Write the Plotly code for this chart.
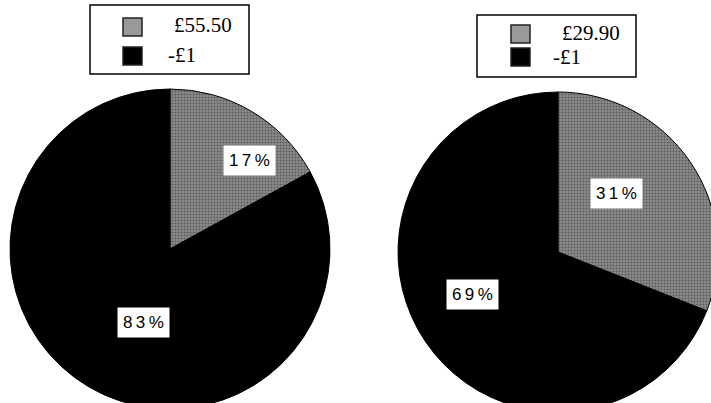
import math
import plotly.graph_objects as go

# Share of each outcome, per ticket price
left_labels = ["£55.50", "-£1"]
left_values = [17, 83]
right_labels = ["£29.90", "-£1"]
right_values = [31, 69]

W, H = 720, 412
R = 160
GRAY = "#8c8c8c"
BLACK = "#000000"
LABEL_FONT = dict(family="Liberation Sans, Arial, sans-serif", size=17, color="black")
LEGEND_FONT = dict(family="Liberation Serif, Times New Roman, serif", size=21, color="black")


def px(x):
    return x / W


def py(y):
    return 1 - y / H


def pie(labels, values, cx, cy):
    return go.Pie(
        labels=labels,
        values=values,
        sort=False,
        direction="clockwise",
        rotation=0,
        textinfo="none",
        hoverinfo="label+percent",
        marker=dict(
            colors=[GRAY, BLACK],
            line=dict(color="black", width=1),
            pattern=dict(shape=[".", ""], fgcolor="#5a5a5a", bgcolor=GRAY,
                         size=3, solidity=0.35, fillmode="replace"),
        ),
        domain=dict(x=[px(cx - R), px(cx + R)], y=[py(cy + R), py(cy - R)]),
        showlegend=False,
    )


def slice_labels(values, cx, cy):
    anns = []
    total = sum(values)
    cum = 0
    for v in values:
        mid = (cum + v / 2) / total * 2 * math.pi
        cum += v
        x = cx + 0.645 * R * math.sin(mid)
        y = cy - 0.645 * R * math.cos(mid)
        anns.append(dict(
            x=px(x), y=py(y), xref="paper", yref="paper",
            text="\u2009".join(f"{v}%"),
            showarrow=False, bgcolor="white", borderpad=5,
            font=LABEL_FONT,
        ))
    return anns


def legend_box(labels, box, swatches, texts):
    shapes = [dict(type="rect", xref="paper", yref="paper",
                   x0=px(box[0]), x1=px(box[1]), y0=py(box[3]), y1=py(box[2]),
                   line=dict(color="black", width=1.5), fillcolor="white")]
    anns = []
    for lab, col, (sx, sy), (tx, ty) in zip(labels, ["#999999", BLACK], swatches, texts):
        shapes.append(dict(type="rect", xref="paper", yref="paper",
                           x0=px(sx), x1=px(sx + 19), y0=py(sy + 18), y1=py(sy),
                           line=dict(color="#222", width=1.5), fillcolor=col))
        anns.append(dict(x=px(tx), y=py(ty), xref="paper", yref="paper",
                         text=lab, showarrow=False, xanchor="left", yanchor="middle",
                         font=LEGEND_FONT))
    return shapes, anns


LCX, LCY = 170, 249
RCX, RCY = 558, 252

fig = go.Figure([pie(left_labels, left_values, LCX, LCY),
                 pie(right_labels, right_values, RCX, RCY)])

s1, a1 = legend_box(left_labels, (90, 249, 5, 74), [(123, 18), (123, 47)], [(172, 25), (166, 55)])
s2, a2 = legend_box(right_labels, (477, 636, 15, 77), [(511, 25), (511, 48)], [(560, 33), (551, 57)])

fig.update_layout(
    width=W, height=H,
    margin=dict(l=0, r=0, t=0, b=0),
    paper_bgcolor="white", plot_bgcolor="white",
    shapes=s1 + s2,
    annotations=slice_labels(left_values, LCX, LCY) + slice_labels(right_values, RCX, RCY) + a1 + a2,
)

fig.write_html("out.html")
